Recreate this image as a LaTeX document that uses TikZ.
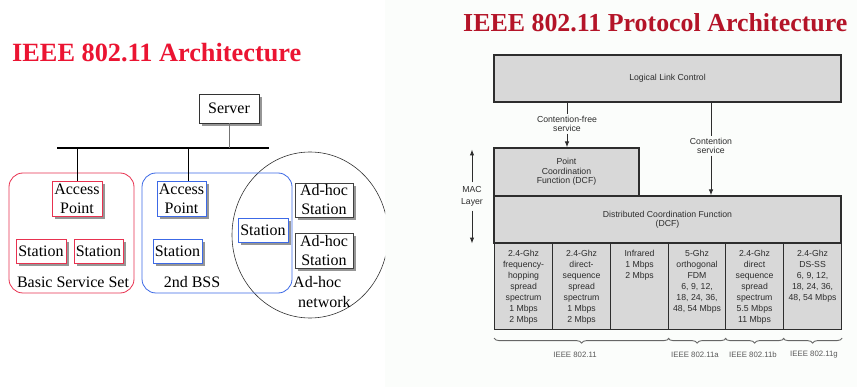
\documentclass[tikz,border=0pt]{standalone}
\usepackage{fontspec}
\setmainfont{Liberation Serif}
\newfontfamily\arialf{Liberation Sans}
\usetikzlibrary{shadows,decorations.pathreplacing,arrows.meta}

\definecolor{titleA}{RGB}{235,20,50}
\definecolor{titleB}{RGB}{180,20,40}
\definecolor{bssred}{RGB}{232,50,80}
\definecolor{bssblue}{RGB}{60,105,230}
\definecolor{boxgray}{RGB}{216,216,216}
\definecolor{linegray}{RGB}{45,45,45}
\definecolor{txtgray}{RGB}{45,45,45}
\definecolor{rightbg}{RGB}{251,253,251}
\definecolor{shadowgray}{RGB}{150,150,150}

\begin{document}
\begin{tikzpicture}[x=1pt,y=-1pt,
  lbox/.style={draw=#1, fill=white, line width=0.9pt, inner sep=0pt, align=center,
    font=\fontsize{16}{19}\selectfont,
    general shadow={shadow xshift=3pt, shadow yshift=-3pt, fill=shadowgray}},
  bssrect/.style={draw=#1, line width=0.8pt, rounded corners=14pt, inner sep=0pt},
  ltext/.style={inner sep=0pt, font=\fontsize{16}{19}\selectfont},
  rbox/.style={draw=linegray, fill=boxgray, line width=1.1pt, inner sep=0pt, align=center,
    text=txtgray, font=\arialf\fontsize{8.7}{9.4}\selectfont},
  rtext/.style={inner sep=1.5pt, align=center, text=txtgray, font=\arialf\fontsize{8.7}{9.6}\selectfont},
  phystext/.style={inner sep=0pt, align=center, text=txtgray, font=\arialf\fontsize{8.7}{11}\selectfont},
  conn/.style={draw=linegray, line width=1pt},
  arr/.style={conn, -{Latex[length=6pt,width=4.5pt]}},
  brc/.style={draw=black!60, line width=0.9pt, decorate,
    decoration={brace, mirror, amplitude=5pt}},
  brctext/.style={inner sep=0pt, text=black!65, font=\arialf\fontsize{7.8}{9}\selectfont}
]
\useasboundingbox (0,0) rectangle (857,387);
\fill[white] (0,0) rectangle (385,387);
\fill[rightbg] (385,0) rectangle (857,387);

% ---------------- titles ----------------
\node[anchor=base west, inner sep=0pt, text=titleA, font=\fontsize{26.3}{30}\selectfont\bfseries] (tleft) at (12,62) {IEEE 802.11 Architecture};
\node[anchor=base west, inner sep=0pt, text=titleB, font=\fontsize{25.9}{30}\selectfont\bfseries] (tright) at (463,32) {IEEE 802.11 Protocol Architecture};

% ---------------- left diagram ----------------
\begin{scope}
  \clip (0,0) rectangle (385,387);
  \draw[black!80, line width=0.6pt] (310,235) ellipse [x radius=78, y radius=83];
\end{scope}

\node[bssrect=bssred, minimum width=125pt, minimum height=120pt] (bss1) at (71.5,233) {};
\node[bssrect=bssblue, minimum width=150pt, minimum height=120pt] (bss2) at (217,233) {};

\node[lbox=black!80, minimum width=60pt, minimum height=29pt] (server) at (229,108.5) {Server};
\coordinate (busL) at (57,148);
\coordinate (busR) at (269,148);
\draw[line width=2pt] (busL) -- (busR);
\draw[black!55, line width=1pt] (server.south) -- (server.south |- busL);

\node[lbox=bssred, minimum width=50pt, minimum height=35pt] (ap1) at (77,198.5) {Access\\Point};
\node[lbox=bssred, minimum width=50pt, minimum height=24pt] (st1) at (41,251) {Station};
\node[lbox=bssred, minimum width=49pt, minimum height=24pt] (st2) at (98.5,251) {Station};
\node[lbox=bssblue, minimum width=49pt, minimum height=35pt] (ap2) at (181.5,198.5) {Access\\Point};
\node[lbox=bssblue, minimum width=49pt, minimum height=24pt] (st3) at (177.5,251) {Station};
\node[lbox=bssblue, minimum width=50pt, minimum height=24pt] (st4) at (263,230) {Station};
\node[lbox=black!75, minimum width=58pt, minimum height=34pt] (ah1) at (324,200) {Ad-hoc\\Station};
\node[lbox=black!75, minimum width=58pt, minimum height=35pt] (ah2) at (324,250.5) {Ad-hoc\\Station};

\draw[line width=1pt] (ap1.north) -- (ap1.north |- busL);
\draw[line width=1pt] ([xshift=7pt]ap2.north) -- ([xshift=7pt]ap2.north |- busL);

\node[ltext, anchor=base] (lbss1) at (73,288) {Basic Service Set};
\node[ltext, anchor=base] (lbss2) at (192,288) {2nd BSS};
\node[ltext, anchor=base west] (lah1) at (293,288) {Ad-hoc};
\node[ltext, anchor=base west] (lah2) at (298,308) {network};

% ---------------- right diagram ----------------
\node[rbox, minimum width=347pt, minimum height=47pt] (llc) at (667.5,78.5) {Logical Link Control};
\node[rbox, minimum width=145pt, minimum height=48pt] (pcf) at (566.5,172) {Point\\Coordination\\Function (DCF)};
\node[rbox, minimum width=347pt, minimum height=47pt] (dcf) at (667.5,219.5) {Distributed Coordination Function\\(DCF)};

\node[rbox, anchor=north west, minimum width=58pt, minimum height=86pt] (p1) at (494,243) {};
\node[rbox, anchor=north west, minimum width=58pt, minimum height=86pt] (p2) at (552,243) {};
\node[rbox, anchor=north west, minimum width=58pt, minimum height=86pt] (p3) at (610,243) {};
\node[rbox, anchor=north west, minimum width=57pt, minimum height=86pt] (p4) at (668,243) {};
\node[rbox, anchor=north west, minimum width=58pt, minimum height=86pt] (p5) at (725,243) {};
\node[rbox, anchor=north west, minimum width=58pt, minimum height=86pt] (p6) at (783,243) {};

\node[phystext, anchor=north] (pt1) at ([yshift=-7pt]p1.north) {2.4-Ghz\\frequency-\\hopping\\spread\\spectrum\\1 Mbps\\2 Mbps};
\node[phystext, anchor=north] (pt2) at ([yshift=-7pt]p2.north) {2.4-Ghz\\direct-\\sequence\\spread\\spectrum\\1 Mbps\\2 Mbps};
\node[phystext, anchor=north] (pt3) at ([yshift=-7pt]p3.north) {Infrared\\1 Mbps\\2 Mbps};
\node[phystext, anchor=north] (pt4) at ([yshift=-7pt]p4.north) {5-Ghz\\orthogonal\\FDM\\6, 9, 12,\\18, 24, 36,\\48, 54 Mbps};
\node[phystext, anchor=north] (pt5) at ([yshift=-7pt]p5.north) {2.4-Ghz\\direct\\sequence\\spread\\spectrum\\5.5 Mbps\\11 Mbps};
\node[phystext, anchor=north] (pt6) at ([yshift=-7pt]p6.north) {2.4-Ghz\\DS-SS\\6, 9, 12,\\18, 24, 36,\\48, 54 Mbps};

% arrows with labels
\node[rtext] (cfs) at (567,124) {Contention-free\\service};
\draw[conn] (llc.south -| cfs) -- (cfs.north);
\draw[arr] (cfs.south) -- (pcf.north -| cfs);

\node[rtext] (cs) at (711,146) {Contention\\service};
\draw[conn] (llc.south -| cs) -- (cs.north);
\draw[arr] (cs.south) -- (dcf.north -| cs);

\node[rtext, inner sep=4pt, font=\arialf\fontsize{8.7}{12}\selectfont] (mac) at (472,196.5) {MAC\\Layer};
\draw[arr] (mac.north) -- ([yshift=-2pt]mac.north |- pcf.north);
\draw[arr] (mac.south) -- (mac.south |- dcf.south);

% braces
\draw[brc] ([yshift=-8pt]p1.south west) -- ([yshift=-8pt]p3.south east);
\draw[brc] ([yshift=-8pt]p4.south west) -- ([yshift=-8pt]p4.south east);
\draw[brc] ([yshift=-8pt]p5.south west) -- ([yshift=-8pt]p5.south east);
\draw[brc] ([yshift=-8pt]p6.south west) -- ([yshift=-8pt]p6.south east);
\node[brctext] (b1) at (575,355) {IEEE 802.11};
\node[brctext] (b2) at (695,355) {IEEE 802.11a};
\node[brctext] (b3) at (753,355) {IEEE 802.11b};
\node[brctext] (b4) at (814,355) {IEEE 802.11g};
\end{tikzpicture}
\end{document}
